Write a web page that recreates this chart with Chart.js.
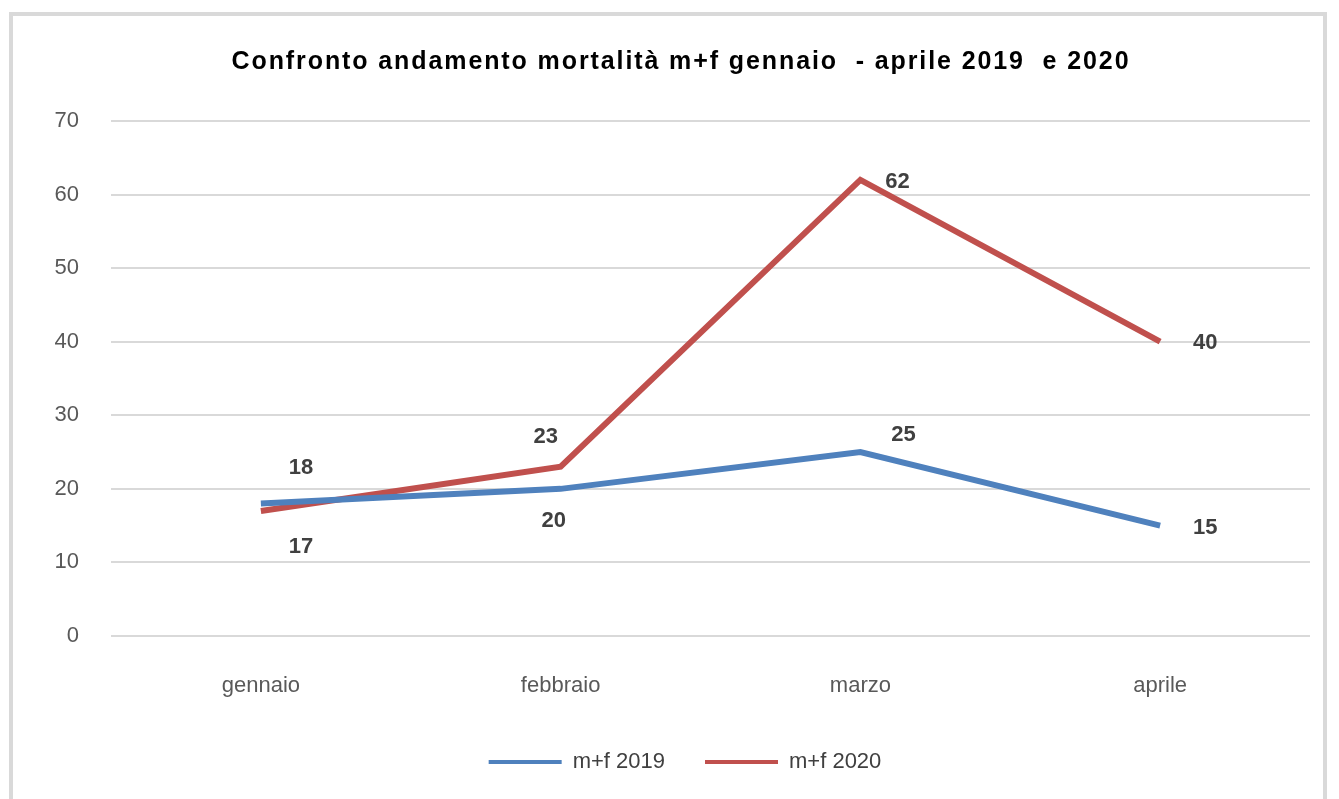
<!DOCTYPE html>
<html>
<head>
<meta charset="utf-8">
<script src="https://cdn.jsdelivr.net/npm/chart.js@4.4.1/dist/chart.umd.min.js"></script>
<style>
  body { margin: 0; background: #fff; }
  #frame { position: absolute; left: 9px; top: 12px; width: 1318px; height: 800px; border: 4px solid #d9d9d9; box-sizing: border-box; }
  #wrap { position: absolute; left: 0; top: 0; width: 1339px; height: 799px; }
</style>
</head>
<body>
<div id="frame"></div>
<div id="wrap"><canvas id="myChart"></canvas></div>
<script>
const mesi = ['gennaio', 'febbraio', 'marzo', 'aprile'];
const valori2019 = [18, 20, 25, 15];
const valori2020 = [17, 23, 62, 40];
const titolo = 'Confronto andamento mortalità m+f gennaio  - aprile 2019  e 2020';

const FONT = '"Liberation Sans", Arial, sans-serif';

// dove mettere le etichette rispetto al punto (px)
const offset2019 = [[40, -36], [-7, 32], [43, -17], [45, 2]];
const offset2020 = [[40, 36], [-15, -30], [37, 2], [45, 1]];

const etichette = {
    id: 'etichette',
    afterDatasetsDraw(chart) {
        const c = chart.ctx;
        c.save();
        c.font = 'bold 22px ' + FONT;
        c.fillStyle = '#404040';
        c.textAlign = 'center';
        c.textBaseline = 'middle';
        chart.data.datasets.forEach((ds, i) => {
            const meta = chart.getDatasetMeta(i);
            const off = i == 0 ? offset2019 : offset2020;
            meta.data.forEach((pt, j) => {
                c.fillText(ds.data[j], pt.x + off[j][0], pt.y + off[j][1]);
            });
        });
        c.restore();
    }
};

// titolo disegnato a mano per avere la spaziatura delle lettere
const titoloPlugin = {
    id: 'titoloPlugin',
    beforeDraw(chart) {
        // legenda un po' spostata a destra come nell'originale
        chart.legend.left = 60;
        chart.legend.right = 1310;
    },
    afterDraw(chart) {
        const c = chart.ctx;
        c.save();
        c.font = 'bold 25px ' + FONT;
        c.letterSpacing = '1.9px';
        c.fillStyle = '#000';
        c.textAlign = 'center';
        c.textBaseline = 'middle';
        c.fillText(titolo, 681, 62);
        c.restore();
    }
};

const ctx = document.getElementById('myChart');

const myChart = new Chart(ctx, {
    type: 'line',
    data: {
        labels: mesi,
        datasets: [{
            label: 'm+f 2019',
            data: valori2019,
            borderColor: '#4f81bd',
            backgroundColor: '#4f81bd',
            borderWidth: 6,
            pointRadius: 0,
            tension: 0
        }, {
            label: 'm+f 2020',
            data: valori2020,
            borderColor: '#c0504d',
            backgroundColor: '#c0504d',
            borderWidth: 6,
            pointRadius: 0,
            tension: 0
        }]
    },
    options: {
        responsive: true,
        maintainAspectRatio: false,
        animation: false,
        layout: { padding: { left: 0, right: 29, top: 121, bottom: 16 } },
        plugins: {
            title: { display: false },
            legend: {
                position: 'bottom',
                labels: {
                    color: '#404040',
                    font: { family: FONT, size: 22 },
                    boxWidth: 73,
                    boxHeight: 4,
                    padding: 40,
                    generateLabels(chart) {
                        return chart.data.datasets.map((ds, i) => ({
                            text: ds.label,
                            fillStyle: ds.borderColor,
                            strokeStyle: ds.borderColor,
                            lineWidth: 0,
                            fontColor: '#404040',
                            datasetIndex: i
                        }));
                    }
                }
            },
            tooltip: { enabled: false }
        },
        scales: {
            x: {
                offset: true,
                grid: { display: false, drawTicks: false },
                border: { display: false },
                ticks: {
                    color: '#595959',
                    padding: 37,
                    font: { family: FONT, size: 22 }
                },
                afterFit(scale) { scale.height = 75; }
            },
            y: {
                min: 0,
                max: 70,
                grid: { color: '#d9d9d9', lineWidth: 2, drawTicks: false },
                border: { display: false },
                ticks: {
                    stepSize: 10,
                    color: '#595959',
                    padding: 32,
                    font: { family: FONT, size: 22 }
                },
                afterFit(scale) { scale.width = 111; }
            }
        }
    },
    plugins: [etichette, titoloPlugin]
});
</script>
</body>
</html>
